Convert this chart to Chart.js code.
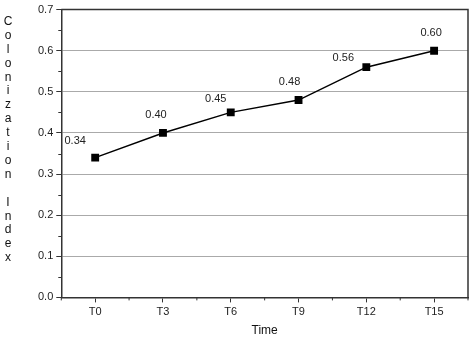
<!DOCTYPE html>
<html>
<head>
<meta charset="utf-8">
<script src="https://cdn.jsdelivr.net/npm/chart.js@4"></script>
<style>
  html, body { margin: 0; padding: 0; background: #fff; }
  #wrap { width: 474px; height: 340px; }
</style>
</head>
<body>
<div id="wrap"><canvas id="chart"></canvas></div>
<script>
const timePoints = ['T0', 'T3', 'T6', 'T9', 'T12', 'T15'];
const colonizationIndex = [0.34, 0.40, 0.45, 0.48, 0.56, 0.60];
const yAxisLabel = 'Colonization Index';
const xAxisLabel = 'Time';

// where each value label sits relative to its point (px)
const labelShift = [[-20, -17], [-7, -18], [-15, -13], [-9, -18], [-23, -9], [-3, -18]];

const axisColor = '#333';

const extras = {
    id: 'extras',
    afterDraw(chart) {
        const ctx = chart.ctx;
        const area = chart.chartArea;
        const x = chart.scales.x;
        const y = chart.scales.y;
        ctx.save();

        // frame on top and right
        ctx.strokeStyle = axisColor;
        ctx.lineWidth = 1.5;
        ctx.beginPath();
        ctx.moveTo(area.left, area.top);
        ctx.lineTo(area.right, area.top);
        ctx.lineTo(area.right, area.bottom);
        ctx.stroke();

        // minor ticks
        ctx.lineWidth = 1;
        ctx.beginPath();
        for (let i = 0; i <= timePoints.length; i++) {
            const px = x.getPixelForValue(i - 0.5);
            ctx.moveTo(px, area.bottom);
            ctx.lineTo(px, area.bottom + 3);
        }
        for (let v = 0.05; v < 0.7; v += 0.1) {
            const py = Math.round(y.getPixelForValue(v)) + 0.5;
            ctx.moveTo(area.left, py);
            ctx.lineTo(area.left - 3, py);
        }
        ctx.stroke();

        // value labels
        ctx.fillStyle = '#222';
        ctx.font = '11px Arial, "Liberation Sans"';
        ctx.textAlign = 'center';
        ctx.textBaseline = 'middle';
        const meta = chart.getDatasetMeta(0);
        meta.data.forEach((pt, i) => {
            ctx.fillText(colonizationIndex[i].toFixed(2), pt.x + labelShift[i][0], pt.y + labelShift[i][1]);
        });

        // stacked y-axis title
        ctx.font = '12px Arial, "Liberation Sans"';
        ctx.fillStyle = '#111';
        const chars = yAxisLabel.split('');
        chars.forEach((c, i) => {
            ctx.fillText(c, 8, area.top + 12 + i * 13.9);
        });
        ctx.restore();
    }
};

new Chart(document.getElementById('chart').getContext('2d'), {
    type: 'line',
    data: {
        labels: timePoints,
        datasets: [{
            data: colonizationIndex,
            borderColor: '#000',
            borderWidth: 1.5,
            pointStyle: 'rect',
            pointRadius: 4.5,
            pointBackgroundColor: '#000',
            pointBorderColor: '#000',
            tension: 0
        }]
    },
    options: {
        responsive: true,
        maintainAspectRatio: false,
        animation: false,
        layout: { padding: { left: 35, right: 6, top: 2, bottom: 2 } },
        plugins: {
            legend: { display: false },
            tooltip: { enabled: false }
        },
        scales: {
            x: {
                offset: true,
                grid: { drawOnChartArea: false, tickLength: 5, tickColor: axisColor, offset: false },
                border: { color: axisColor, width: 1.5 },
                ticks: { color: '#222', font: { family: 'Arial', size: 11 }, padding: 3 },
                title: { display: true, text: xAxisLabel, color: '#111', font: { family: 'Arial', size: 12 }, padding: { top: 2, bottom: 0 } }
            },
            y: {
                min: 0,
                max: 0.7,
                ticks: {
                    stepSize: 0.1,
                    color: '#222',
                    font: { family: 'Arial', size: 11 },
                    padding: 3,
                    callback: v => v.toFixed(1)
                },
                grid: { color: '#aaa', tickColor: axisColor, tickLength: 5 },
                border: { color: axisColor, width: 1.5 }
            }
        }
    },
    plugins: [extras]
});
</script>
</body>
</html>
